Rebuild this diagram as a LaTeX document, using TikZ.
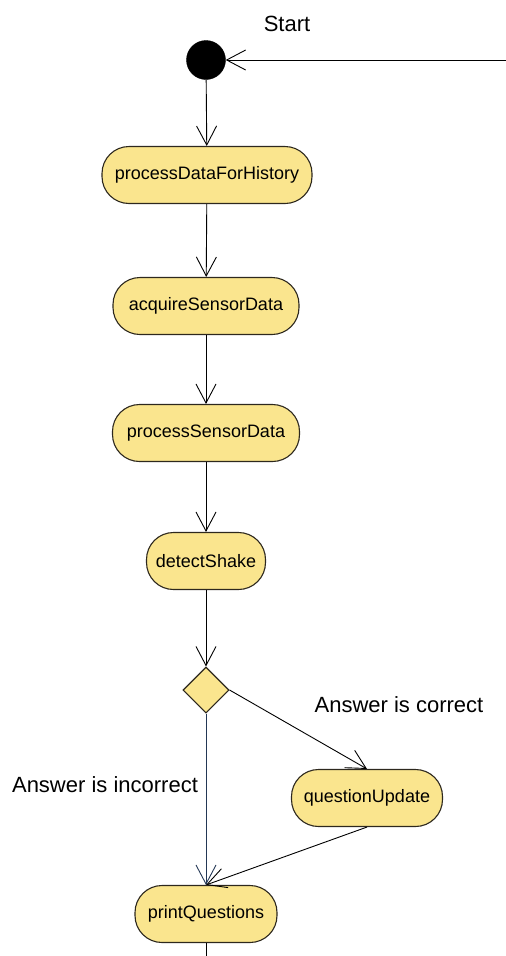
\documentclass[tikz,border=0pt]{standalone}
\usepackage{fontspec}
\setmainfont{Liberation Sans}
\usetikzlibrary{arrows.meta,shapes.geometric}
\definecolor{actfill}{RGB}{250,229,142}
\definecolor{actdraw}{RGB}{45,40,30}
\definecolor{vline}{RGB}{35,55,85}
\tikzset{
  act/.style={draw=actdraw, line width=1.1pt, fill=actfill, rounded corners=27pt,
    minimum height=57pt, inner sep=0pt, font=\fontsize{18}{22}\selectfont},
  dec/.style={draw=actdraw, line width=1.1pt, fill=actfill, diamond, inner sep=0pt,
    minimum width=46pt, minimum height=46pt},
  startnode/.style={circle, fill=black, draw=black, minimum size=39pt, inner sep=0pt},
  flow/.style={line width=0.9pt, draw=black, -{Straight Barb[length=19pt,width=20pt,line width=0.9pt]}},
  plain/.style={line width=0.9pt, draw=black},
  lbl/.style={font=\fontsize{22}{26}\selectfont, inner sep=0pt}
}
\begin{document}
\begin{tikzpicture}[x=1pt,y=-1pt]
\useasboundingbox (0,0) rectangle (506,956);
\node[lbl] (startlbl) at (287,24) {Start};
\node[startnode] (start) at (206,60) {};
\node[act, minimum width=210pt] (pdfh) at (207,175) {processDataForHistory};
\node[act, minimum width=186pt] (asd) at (206,306) {acquireSensorData};
\node[act, minimum width=187pt] (psd) at (206,433) {processSensorData};
\node[act, minimum width=119pt] (ds) at (206,561) {detectShake};
\node[dec] (dec) at (206,690) {};
\node[act, minimum width=151pt] (qu) at (367,798) {questionUpdate};
\node[act, minimum width=142pt] (pq) at (206,914) {printQuestions};
\node[lbl] (corr) at (399,705) {Answer is correct};
\node[lbl] (incorr) at (105,785) {Answer is incorrect};
\coordinate (loop) at (506,60);
\coordinate (bot) at (206,956);

\draw[flow] (loop) -- (start);
\draw[flow] (start) -- (pdfh);
\draw[flow] (pdfh) -- (asd);
\draw[flow] (asd) -- (psd);
\draw[flow] (psd) -- (ds);
\draw[flow] (ds) -- (dec);
\draw[flow] (dec.east) -- (qu.north);
\draw[flow, draw=vline] (dec.south) -- (pq.north);
\draw[flow] (qu.south) -- (pq.north);
\draw[plain] (pq) -- (bot);
\end{tikzpicture}
\end{document}
